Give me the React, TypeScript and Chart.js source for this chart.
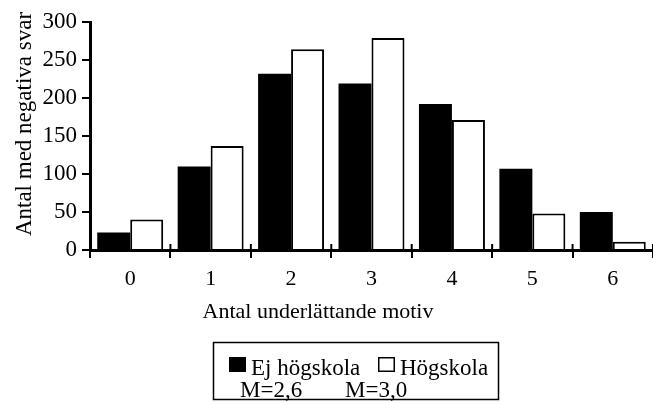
import React, { useEffect, useRef } from "react";
import { Chart, registerables } from "chart.js";

Chart.register(...registerables);

const categories = ["0", "1", "2", "3", "4", "5", "6"];
const ejHogskola = [23, 110, 232, 219, 192, 107, 50];
const hogskola = [40, 137, 264, 279, 171, 48, 11];
const seriesLabels = ["Ej högskola", "Högskola"];
const seriesMeans = ["M=2,6", "M=3,0"];
const yMin = 0;
const yMax = 300;
const yStep = 50;
const xTitle = "Antal underlättande motiv";
const yTitle = "Antal med negativa svar";

const FONT = '"Liberation Serif", "Times New Roman", serif';

const decorPlugin = {
  id: "decor",
  afterDraw(chart: any) {
    const ctx = chart.ctx;
    const xs = chart.scales.x;
    const area = chart.chartArea;
    ctx.save();
    ctx.strokeStyle = "#000";
    ctx.fillStyle = "#000";
    // inner part of the x boundary ticks
    ctx.lineWidth = 2;
    for (let i = 0; i <= categories.length; i++) {
      const x = xs.getPixelForValue(i - 0.5);
      ctx.beginPath();
      ctx.moveTo(x, area.bottom - 6);
      ctx.lineTo(x, area.bottom);
      ctx.stroke();
    }
    // y title
    ctx.font = `23px ${FONT}`;
    ctx.save();
    ctx.translate(31, 124);
    ctx.rotate(-Math.PI / 2);
    ctx.textAlign = "center";
    ctx.textBaseline = "alphabetic";
    ctx.fillText(yTitle, 0, 0);
    ctx.restore();
    // x title
    ctx.font = `22px ${FONT}`;
    ctx.textAlign = "center";
    ctx.textBaseline = "alphabetic";
    ctx.fillText(xTitle, 318, 318);
    // legend box
    ctx.lineWidth = 1.5;
    ctx.strokeRect(213.5, 342.5, 285, 57);
    ctx.font = `23px ${FONT}`;
    ctx.textAlign = "left";
    const ds = chart.data.datasets;
    const itemX = [229, 378];
    const meanX = [240, 345];
    for (let i = 0; i < ds.length; i++) {
      const bx = itemX[i];
      ctx.fillStyle = ds[i].backgroundColor;
      ctx.fillRect(bx, 357, 17, 15);
      ctx.lineWidth = 1.5;
      ctx.strokeStyle = "#000";
      ctx.strokeRect(bx + 0.75, 357.75, 15.5, 13.5);
      ctx.fillStyle = "#000";
      ctx.fillText(ds[i].label, bx + 22, 375);
      ctx.fillText(seriesMeans[i], meanX[i], 397);
    }
    ctx.restore();
  },
};

export default function App() {
  const ref = useRef<HTMLCanvasElement | null>(null);
  useEffect(() => {
    if (!ref.current) return;
    const chart = new Chart(ref.current, {
      type: "bar",
      data: {
        labels: categories,
        datasets: [
          {
            label: seriesLabels[0],
            data: ejHogskola,
            backgroundColor: "#000",
            borderColor: "#000",
            borderWidth: 0,
          },
          {
            label: seriesLabels[1],
            data: hogskola,
            backgroundColor: "#fff",
            borderColor: "#000",
            borderWidth: 2,
          },
        ],
      },
      options: {
        responsive: false,
        animation: false,
        devicePixelRatio: 1,
        layout: { padding: { top: 22, right: 0, left: 0, bottom: 0 } },
        datasets: {
          bar: { categoryPercentage: 0.82, barPercentage: 1.0 },
        },
        plugins: {
          legend: { display: false },
          tooltip: { enabled: false },
          title: { display: false },
        },
        scales: {
          x: {
            type: "category",
            offset: true,
            grid: {
              display: true,
              offset: true,
              drawOnChartArea: false,
              drawTicks: true,
              tickLength: 8,
              color: "#000",
              lineWidth: 2,
            },
            border: { display: true, color: "#000", width: 3 },
            ticks: {
              color: "#000",
              font: { family: FONT, size: 22 },
              padding: 8,
              maxRotation: 0,
            },
            afterFit: (s: any) => {
              s.height = 152;
            },
          },
          y: {
            min: yMin,
            max: yMax,
            grid: {
              display: true,
              drawOnChartArea: false,
              drawTicks: true,
              tickLength: 8,
              color: "#000",
              lineWidth: 2,
            },
            border: { display: true, color: "#000", width: 3 },
            ticks: {
              stepSize: yStep,
              color: "#000",
              font: { family: FONT, size: 23 },
              padding: 5,
            },
            afterFit: (s: any) => {
              s.width = 90;
            },
          },
        },
      },
      plugins: [decorPlugin],
    });
    return () => chart.destroy();
  }, []);
  return (
    <div style={{ position: "absolute", left: 0, top: 0, width: 653, height: 402, background: "#fff" }}>
      <canvas ref={ref} width={653} height={402} style={{ width: 653, height: 402, display: "block" }} />
    </div>
  );
}
